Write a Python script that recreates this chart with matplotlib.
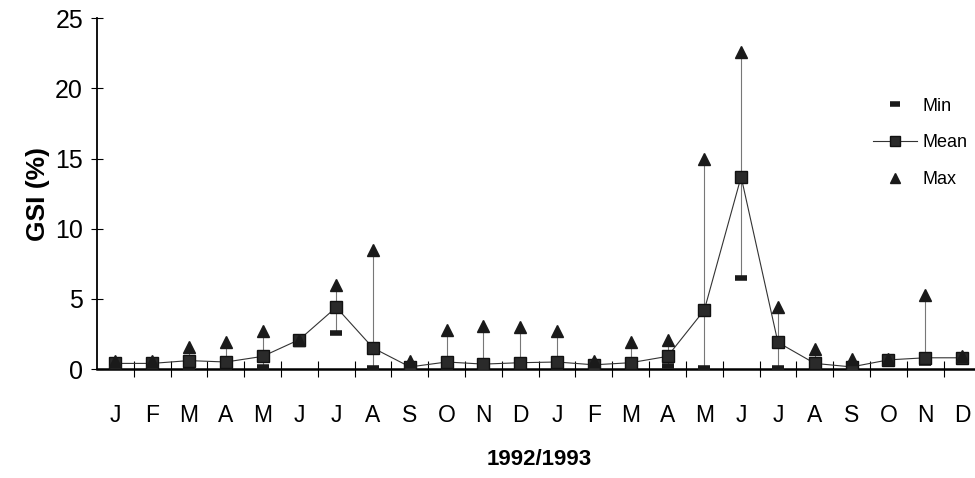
import matplotlib.pyplot as plt
import numpy as np

plt.rcParams['font.family'] = ['Liberation Sans', 'DejaVu Sans']

# Monthly GSI (%) over 1992/1993
months = ['J', 'F', 'M', 'A', 'M', 'J', 'J', 'A', 'S', 'O', 'N', 'D',
          'J', 'F', 'M', 'A', 'M', 'J', 'J', 'A', 'S', 'O', 'N', 'D']
gsi_mean = [0.4, 0.4, 0.6, 0.5, 0.9, 2.1, 4.4, 1.5, 0.15, 0.5, 0.35, 0.45,
            0.5, 0.3, 0.45, 0.9, 4.2, 13.7, 1.9, 0.4, 0.15, 0.65, 0.8, 0.8]
gsi_max = [0.6, 0.6, 1.6, 1.9, 2.7, 2.1, 6.0, 8.5, 0.6, 2.8, 3.1, 3.0,
           2.7, 0.6, 1.9, 2.1, 15.0, 22.6, 4.4, 1.4, 0.7, 0.7, 5.3, 0.9]
gsi_min = [0.1, 0.1, 0.1, 0.1, 0.15, 2.1, 2.6, 0.05, 0.05, 0.1, 0.1, 0.1,
           0.1, 0.1, 0.1, 0.2, 0.1, 6.5, 0.05, 0.1, 0.05, 0.5, 0.4, 0.8]

x = np.arange(len(months))

fig = plt.figure(figsize=(9.75, 4.78), dpi=100)
ax = fig.add_axes([0.0995, 0.228, 0.906, 0.734])

# high-low lines
ax.vlines(x, gsi_min, gsi_max, color='#777777', linewidth=0.8, zorder=1)

ax.plot(x, gsi_min, linestyle='none', marker='_', markersize=9,
        markeredgewidth=4, color='#1a1a1a', label='Min', zorder=3)
ax.plot(x, gsi_mean, '-', color='#333333', linewidth=0.8, marker='s',
        markersize=9, markerfacecolor='#2a2a2a', markeredgecolor='#111111',
        label='Mean', zorder=3)
ax.plot(x, gsi_max, linestyle='none', marker='^', markersize=9,
        color='#1a1a1a', label='Max', zorder=3)

ax.set_xlim(-0.5, 23.5)
ax.set_ylim(0, 25)

for s in ['top', 'right']:
    ax.spines[s].set_visible(False)
ax.spines['left'].set_linewidth(1.3)
ax.spines['bottom'].set_linewidth(1.8)

ax.set_yticks([0, 5, 10, 15, 20, 25])
ax.tick_params(axis='y', direction='inout', length=8, width=0.8,
               labelsize=18, pad=6)

ax.set_xticks(x)
ax.set_xticklabels(months)
ax.set_xticks(np.arange(0.5, 23.5, 1), minor=True)
ax.tick_params(axis='x', which='major', length=0, labelsize=16.5, pad=25)
ax.tick_params(axis='x', which='minor', direction='inout', length=12, width=0.8)

ax.set_ylabel('GSI (%)', fontsize=19, fontweight='bold', labelpad=4)
ax.set_xlabel('1992/1993', fontsize=16, fontweight='bold', labelpad=16)

leg = ax.legend(loc='upper left', bbox_to_anchor=(0.879, 0.83),
                bbox_transform=fig.transFigure, frameon=False,
                fontsize=13, handlelength=2.4, handletextpad=0.3,
                labelspacing=1.1, markerscale=0.8)

fig.savefig('out.png', dpi=100)
